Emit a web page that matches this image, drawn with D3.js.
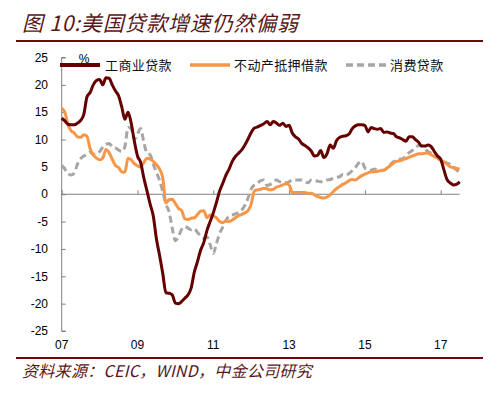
<!DOCTYPE html>
<html>
<head>
<meta charset="utf-8">
<script src="https://cdn.jsdelivr.net/npm/d3@7"></script>
<style>
  html, body { margin: 0; padding: 0; background: #fff; }
  svg { display: block; }
</style>
</head>
<body>
<svg id="chart" width="504" height="395"></svg>
<script>
// ---- data (monthly, starting Jan 2007) ----
const startYear = 2007;
const seriesNames = ["工商业贷款", "不动产抵押借款", "消费贷款"];
const ciLoans = [
  13.9,13.4,12.8,12.7,12.7,13.0,13.5,14.6,17.8,18.6,20.0,20.8,
  21.0,20.0,21.3,21.2,20.0,18.9,18.0,16.0,13.7,15.0,13.0,9.7,
  7.0,5.8,3.0,0.6,-1.8,-4.0,-8.2,-11.2,-14.5,-18.0,-18.1,-18.4,
  -19.9,-20.0,-19.6,-19.0,-18.4,-17.1,-14.2,-12.3,-10.2,-8.8,-6.6,-5.0,
  -3.4,-1.5,0.6,2.0,3.5,4.6,6.0,6.9,7.5,8.1,9.0,10.1,
  11.3,12.1,12.3,12.6,12.9,13.3,12.7,13.3,13.0,12.6,13.0,12.4,
  12.6,11.2,10.5,10.1,9.3,8.9,8.5,7.9,7.0,7.1,8.0,6.7,
  7.4,9.0,8.4,9.8,10.4,10.6,10.7,11.0,12.0,12.5,12.7,12.7,
  12.6,11.4,12.2,12.0,11.9,12.0,11.3,11.4,11.2,11.1,10.5,10.3,
  10.0,9.7,10.5,10.5,10.0,9.5,8.8,8.8,9.0,8.7,7.8,7.0,
  6.4,4.5,2.7,2.1,1.7,1.8,2.3
];
const mortgage = [
  15.7,15.0,12.7,11.6,11.2,10.5,10.4,10.9,10.6,8.3,7.2,6.6,
  6.3,6.6,8.2,7.6,6.4,5.3,4.9,4.1,4.0,6.6,6.3,5.6,
  5.2,5.0,5.8,6.6,6.4,6.0,5.4,4.6,3.0,-1.6,-1.0,-0.9,
  -1.7,-2.6,-3.0,-4.5,-4.6,-4.4,-4.3,-3.7,-3.1,-3.0,-4.3,-3.8,
  -4.0,-4.3,-5.0,-5.2,-4.9,-5.0,-4.7,-4.3,-3.9,-3.7,-3.4,-3.0,
  -1.8,0.6,0.8,0.9,1.1,1.0,0.8,0.9,1.3,1.5,1.7,1.9,
  1.7,0.3,0.3,0.3,0.3,0.3,0.2,0.2,-0.1,-0.4,-0.6,-0.7,
  -0.5,-0.1,0.5,1.0,1.4,1.8,2.1,2.5,2.7,2.6,3.0,3.4,
  3.7,3.9,4.1,4.1,4.2,4.3,4.4,4.8,5.2,5.7,6.0,6.1,
  6.3,6.5,6.8,7.0,7.2,7.4,7.4,7.5,7.5,7.2,6.9,6.6,
  6.2,5.9,5.5,5.0,4.9,4.7,4.6
];
const consumer = [
  5.3,4.6,3.8,3.5,3.9,5.5,6.5,7.0,7.3,7.7,7.3,7.3,
  7.8,8.6,9.1,9.3,8.7,8.5,8.1,7.8,8.7,12.2,12.0,10.0,
  11.0,12.0,9.5,7.5,7.2,5.5,4.0,2.5,0.5,-1.8,-3.2,-6.2,
  -8.5,-7.7,-6.4,-5.9,-6.2,-6.5,-6.3,-7.0,-7.6,-8.0,-7.8,-9.2,
  -10.8,-9.0,-7.2,-6.0,-4.8,-4.0,-3.8,-3.6,-3.3,-2.9,-2.0,-0.7,
  1.0,1.7,2.0,2.5,2.6,1.6,1.8,2.2,2.6,2.3,2.1,2.1,
  2.3,2.6,2.6,2.6,2.6,2.3,2.1,2.6,2.5,2.4,2.3,2.4,
  2.6,2.7,2.9,3.1,3.2,3.6,3.5,3.8,4.3,4.9,5.7,6.0,
  4.8,4.5,4.4,4.6,4.5,4.4,4.4,4.8,5.4,5.9,6.2,6.4,
  6.5,7.0,7.6,8.0,8.5,8.9,8.8,8.3,7.8,7.5,7.2,6.8,
  6.4,6.0,5.7,5.5,5.0,4.4,4.1
];
const yTicks = [25,20,15,10,5,0,-5,-10,-15,-20,-25];
const xTickYears = [2007,2009,2011,2013,2015,2017];
const xTickLabels = ["07","09","11","13","15","17"];
const titleText = "图 10:美国贷款增速仍然偏弱";
const sourceText = "资料来源：CEIC，WIND，中金公司研究";

// ---- setup ----
const svg = d3.select("#chart");
const brand = "#6a0a0a";
const colors = ["#650000", "#F79646", "#A6A6A6"];
const numFont = "'Liberation Sans', Arial, sans-serif";
const cjkFont = "'Noto Sans CJK SC', 'Noto Sans', sans-serif";

const x = d3.scaleLinear().domain([2007, 2017.5]).range([61.7, 459.65]);
const y = d3.scaleLinear().domain([-25, 25]).range([331, 57.5]);

// title
svg.append("text").attr("x", 22).attr("y", 31)
  .attr("font-family", cjkFont).attr("font-size", 21).attr("font-style", "italic")
  .attr("letter-spacing", 0.8)
  .attr("fill", "#5a1616").text(titleText);
svg.append("line").attr("x1", 16).attr("x2", 483).attr("y1", 41).attr("y2", 41)
  .attr("stroke", brand).attr("stroke-width", 2);

// bottom rule & source
svg.append("line").attr("x1", 16).attr("x2", 483).attr("y1", 358).attr("y2", 358)
  .attr("stroke", brand).attr("stroke-width", 2);
svg.append("text").attr("x", 22).attr("y", 377)
  .attr("font-family", cjkFont).attr("font-size", 16).attr("font-style", "italic")
  .attr("letter-spacing", 0.3)
  .attr("fill", "#5a1616").text(sourceText);

// y axis
const yAxis = d3.axisRight(y).tickValues(yTicks).tickSize(4).tickFormat("");
const yg = svg.append("g").attr("transform", `translate(${x(2007)},0)`).call(yAxis);
yg.select(".domain").attr("stroke", "#808080").attr("d", `M4,${y(25)}H0V${y(-25)}H4`);
yg.selectAll(".tick line").attr("stroke", "#808080");
svg.append("g").selectAll("text").data(yTicks).join("text")
  .attr("x", 48).attr("y", d => y(d)).attr("dy", "0.35em")
  .attr("text-anchor", "end").attr("font-family", numFont).attr("font-size", 12)
  .attr("fill", "#000").text(d => d);

// x axis at zero
const xAxis = d3.axisTop(x).tickValues(xTickYears).tickSize(4).tickFormat("");
const xg = svg.append("g").attr("transform", `translate(0,${y(0)})`).call(xAxis);
xg.select(".domain").attr("stroke", "#808080").attr("d", `M${x(2007)},0H${x(2017.5)}`);
xg.selectAll(".tick line").attr("stroke", "#808080");
svg.append("g").selectAll("text").data(xTickYears).join("text")
  .attr("x", d => x(d)).attr("y", 345).attr("dy", "0.35em")
  .attr("text-anchor", "middle").attr("font-family", numFont).attr("font-size", 12)
  .attr("fill", "#000").text((d, i) => xTickLabels[i]);

// lines
const allSeries = [ciLoans, mortgage, consumer];
const line = d3.line().x((d, i) => x(startYear + i / 12)).y(d => y(d)).curve(d3.curveMonotoneX);
const drawOrder = [2, 1, 0];
drawOrder.forEach(k => {
  const p = svg.append("path").datum(allSeries[k]).attr("d", line)
    .attr("fill", "none").attr("stroke", colors[k]).attr("stroke-width", 3)
    .attr("stroke-linejoin", "round");
  if (k === 2) p.attr("stroke-dasharray", "7,4");
});

// "%" unit
svg.append("text").attr("x", 84).attr("y", 59).attr("dy", "0.35em")
  .attr("text-anchor", "middle").attr("font-family", numFont).attr("font-size", 12)
  .attr("fill", "#000").text("%");

// legend
const legendItems = [
  {x1: 60, x2: 100, tx: 105},
  {x1: 190, x2: 230, tx: 234},
  {x1: 346, x2: 386, tx: 390}
];
legendItems.forEach((it, k) => {
  const l = svg.append("line").attr("x1", it.x1).attr("x2", it.x2).attr("y1", 65).attr("y2", 65)
    .attr("stroke", colors[k]).attr("stroke-width", k === 0 ? 4 : 3.5);
  if (k === 2) l.attr("stroke-dasharray", "7,4");
  svg.append("text").attr("x", it.tx).attr("y", 65).attr("dy", "0.35em")
    .attr("font-family", cjkFont).attr("font-size", 13).attr("letter-spacing", 0.4)
    .attr("fill", "#111").text(seriesNames[k]);
});
</script>
</body>
</html>
